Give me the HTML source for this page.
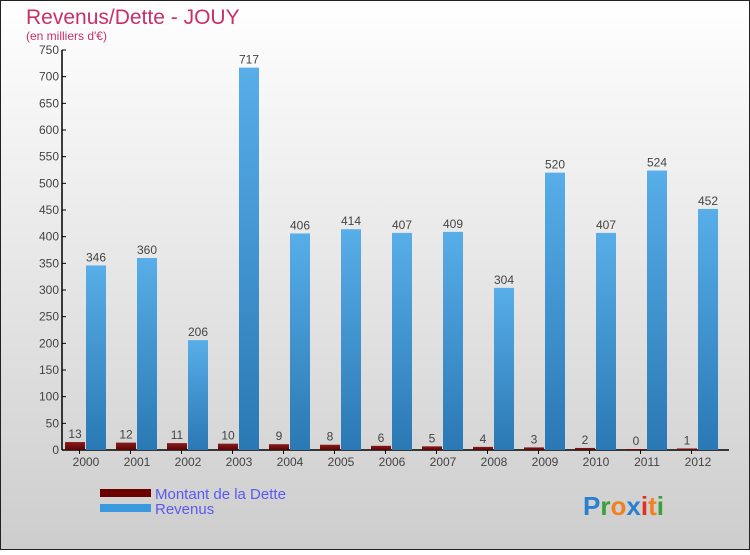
<!DOCTYPE html>
<html><head><meta charset="utf-8"><style>
html,body{margin:0;padding:0}
body{width:750px;height:550px;overflow:hidden;font-family:"Liberation Sans",sans-serif}
</style></head><body>
<svg id="chart" width="750" height="550" xmlns="http://www.w3.org/2000/svg">
<defs>
<linearGradient id="bg" x1="0" y1="0" x2="0" y2="1"><stop offset="0" stop-color="#ffffff"/><stop offset="1" stop-color="#cdcdcd"/></linearGradient>
<linearGradient id="blue" x1="0" y1="0" x2="0" y2="1"><stop offset="0" stop-color="#58aee8"/><stop offset="1" stop-color="#2a78b4"/></linearGradient>
<linearGradient id="red" x1="0" y1="0" x2="0" y2="1"><stop offset="0" stop-color="#8a1a1a"/><stop offset="1" stop-color="#5a0505"/></linearGradient>
</defs>
<rect x="0.5" y="0.5" width="749" height="549" fill="url(#bg)" stroke="#222"/>
<text x="26" y="24" font-size="21" fill="#c8306a">Revenus/Dette - JOUY</text>
<text x="26" y="40" font-size="12" fill="#c8306a">(en milliers d'€)</text>
<g id="axes"></g>
<g id="bars"></g>
<g>
<rect x="100" y="489" width="51" height="8" fill="#6a0000"/>
<text x="155" y="499" font-size="15" fill="#5a5af0">Montant de la Dette</text>
<rect x="100" y="504" width="51" height="8" fill="#3a98de"/>
<text x="155" y="514" font-size="15" fill="#5a5af0">Revenus</text>
</g>
<text x="583" y="515" font-size="26" font-weight="bold"><tspan fill="#2a7fd0">P</tspan><tspan fill="#3aa03a">r</tspan><tspan fill="#f08020">o</tspan><tspan fill="#2a7fd0">x</tspan><tspan fill="#e03020">i</tspan><tspan fill="#f08020">t</tspan><tspan fill="#3aa03a">i</tspan></text>
</svg>
<script>
const categories=["2000","2001","2002","2003","2004","2005","2006","2007","2008","2009","2010","2011","2012"];
const debtValues=[13,12,11,10,9,8,6,5,4,3,2,0,1];
const revenueValues=[346,360,206,717,406,414,407,409,304,520,407,524,452];
const yTicks=[0,50,100,150,200,250,300,350,400,450,500,550,600,650,700,750];
const NS="http://www.w3.org/2000/svg";
const x0=62,step=51,y0=450,yMax=750,yTop=50;
function y(v){return y0-(v/yMax)*(y0-yTop);}
function xg(i){return x0+i*step;}
function mk(tag,attrs,parent){const e=document.createElementNS(NS,tag);for(const k in attrs)e.setAttribute(k,attrs[k]);parent.appendChild(e);return e;}
const axes=document.getElementById('axes'),bars=document.getElementById('bars');
let a=mk('line',{x1:x0,y1:yTop,x2:x0,y2:y0,stroke:'#000','stroke-width':1.5},axes);


a=mk('line',{x1:x0,y1:y0,x2:x0+categories.length*step+4,y2:y0,stroke:'#000','stroke-width':1.5},axes);


yTicks.forEach(t=>{
  const l=mk('line',{x1:x0,y1:y(t),x2:x0+4,y2:y(t),stroke:'#000'},axes);
  
  
  const tx=mk('text',{x:x0-3,y:y(t)+4,'font-size':12,'text-anchor':'end',fill:'#444'},axes);
  tx.textContent=t;
  
  
});
categories.forEach((c,i)=>{
  const g=xg(i);
  const tk=mk('line',{x1:g+step/2-8,y1:y0,x2:g+step/2-8,y2:y0+4,stroke:'#000'},axes);
  
  
  const tx=mk('text',{x:g+24,y:y0+16,'font-size':12,'text-anchor':'middle',fill:'#444'},axes);
  tx.textContent=c;
  
  
  const d=debtValues[i];
  const rd=mk('rect',{x:g+3,y:y(d)-1,width:20,height:y0-y(d)+1,fill:'url(#red)'},bars);
  
  
  const ld=mk('text',{x:g+13,y:y(d)-5,'font-size':12,'text-anchor':'middle',fill:'#444'},bars);
  ld.textContent=d;
  
  
  const r=revenueValues[i];
  const rr=mk('rect',{x:g+24,y:y(r),width:20,height:y0-y(r),fill:'url(#blue)'},bars);
  
  
  const lr=mk('text',{x:g+34,y:y(r)-4,'font-size':12,'text-anchor':'middle',fill:'#444'},bars);
  lr.textContent=r;
  
  
});
</script>
</body></html>
